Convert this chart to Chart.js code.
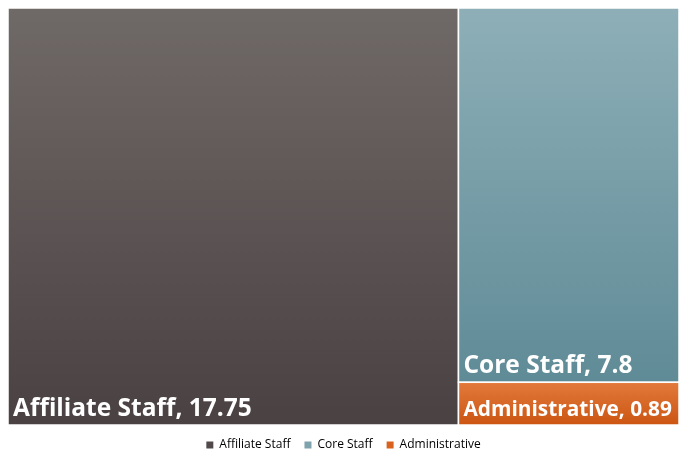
<!DOCTYPE html>
<html>
<head>
<meta charset="utf-8">
<script src="https://cdn.jsdelivr.net/npm/chart.js@4"></script>
<style>
    html, body { margin: 0; padding: 0; background: #fff; }
    #wrap { width: 680px; height: 449px; }
</style>
</head>
<body>
<div id="wrap"><canvas id="treeChart"></canvas></div>
<script>
const categories = ["Affiliate Staff", "Core Staff", "Administrative"];
const values = [17.75, 7.8, 0.89];
const topColors = ["#6f6967", "#8eafb7", "#e27a3c"];
const bottomColors = ["#4a4142", "#5f8b97", "#cc5511"];
const legendColors = ["#524a4a", "#7fa3ad", "#d9621f"];

// simple two-column treemap: biggest item on the left, the rest stacked on the right
const total = values.reduce((a, b) => a + b, 0);
const splitX = values[0] / total;
const cells = [];
cells.push({ x0: 0, x1: splitX, y0: 0, y1: 1 });
const restTotal = total - values[0];
let yTop = 1;
for (let i = 1; i < values.length; i++) {
    const h = values[i] / restTotal;
    cells.push({ x0: splitX, x1: 1, y0: yTop - h, y1: yTop });
    yTop -= h;
}

const labelFamily = "'Open Sans', 'Noto Sans', sans-serif";

const treemapPlugin = {
    id: "treemapCells",
    beforeDatasetsDraw(chart) {
        const ctx = chart.ctx;
        const xs = chart.scales.x;
        const ys = chart.scales.y;
        ctx.save();
        cells.forEach((c, i) => {
            const left = xs.getPixelForValue(c.x0);
            const right = xs.getPixelForValue(c.x1);
            const top = ys.getPixelForValue(c.y1);
            const bottom = ys.getPixelForValue(c.y0);
            const grad = ctx.createLinearGradient(0, top, 0, bottom);
            grad.addColorStop(0, topColors[i]);
            grad.addColorStop(1, bottomColors[i]);
            ctx.fillStyle = grad;
            ctx.fillRect(left, top, right - left, bottom - top);
            ctx.strokeStyle = "#ffffff";
            ctx.lineWidth = 1.5;
            ctx.strokeRect(left, top, right - left, bottom - top);

            // label, shrunk if it does not fit the cell
            const text = categories[i] + ", " + values[i];
            let size = 24.5;
            ctx.font = "bold " + size + "px " + labelFamily;
            const maxW = right - left - 12;
            const w = ctx.measureText(text).width;
            if (w > maxW) {
                size = size * maxW / w;
                ctx.font = "bold " + size + "px " + labelFamily;
            }
            ctx.fillStyle = "#ffffff";
            ctx.textBaseline = "alphabetic";
            ctx.textAlign = "left";
            ctx.fillText(text, left + 5, bottom - 9);
        });
        ctx.restore();
    }
};

new Chart(document.getElementById("treeChart"), {
    type: "scatter",
    data: {
        datasets: categories.map((name, i) => ({
            label: name,
            data: [{ x: (cells[i].x0 + cells[i].x1) / 2, y: (cells[i].y0 + cells[i].y1) / 2 }],
            backgroundColor: legendColors[i],
            borderColor: legendColors[i],
            pointRadius: 0
        }))
    },
    options: {
        responsive: true,
        maintainAspectRatio: false,
        animation: false,
        layout: { padding: { left: 8, top: 8, right: 1, bottom: 0 } },
        scales: {
            x: { type: "linear", min: 0, max: 1, display: false },
            y: { type: "linear", min: 0, max: 1, display: false }
        },
        plugins: {
            tooltip: { enabled: false },
            legend: {
                position: "bottom",
                maxHeight: 24,
                labels: {
                    boxWidth: 7,
                    boxHeight: 7,
                    padding: 14,
                    color: "#595959",
                    font: { size: 12, family: labelFamily },
                    generateLabels: (chart) => categories.map((name, i) => ({
                        text: name,
                        fillStyle: legendColors[i],
                        strokeStyle: legendColors[i],
                        lineWidth: 0,
                        datasetIndex: i
                    }))
                }
            }
        }
    },
    plugins: [treemapPlugin]
});
</script>
</body>
</html>
